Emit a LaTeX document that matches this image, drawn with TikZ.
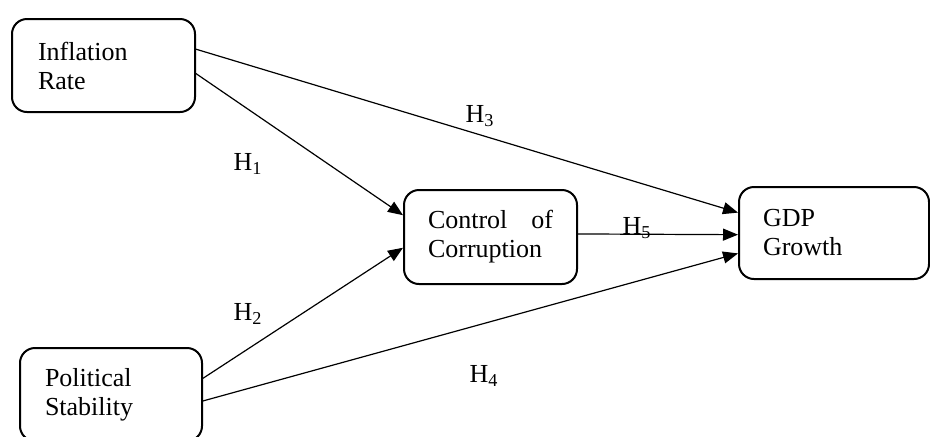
\documentclass[tikz,border=0pt]{standalone}
\usepackage{fontspec}
\setmainfont{Liberation Serif}
\usetikzlibrary{arrows.meta}

\begin{document}
\begin{tikzpicture}[x=0.5pt, y=-0.5pt,
    var/.style={draw, line width=1pt, rounded corners=7.5pt, align=left,
      minimum height=46.5pt, inner xsep=12pt, font=\fontsize{13}{14.5}\selectfont},
    link/.style={-{Triangle[length=7.5pt, width=6pt]}, line width=0.6pt},
    hyp/.style={inner sep=0pt, font=\fontsize{13}{14.5}\selectfont}]
    \clip (0,0) rectangle (930,436);

    % variables
    \node[var, text width=65.5pt, inner xsep=13pt] (infl) at (103.5,65.5) {Inflation\\Rate};
    \node[var, text width=66pt, inner xsep=12.5pt] (pol) at (111,394.5) {Political\\Stability};
    \node[var, text width=62.5pt, minimum height=47pt] (corr) at (490.5,237) {Control \hfill of\\Corruption};
    \node[var, text width=71pt, minimum height=46pt] (gdp) at (834,233) {GDP\\Growth};

    % paths
    \draw[link] (infl.-5.3) -- (corr.166.5);
    \draw[link] (pol.10.3) -- (corr.187.8);
    \draw[link] (infl.10.1) -- (gdp.168);
    \draw[link] (pol.-4.7) -- (gdp.192.6);
    \draw[link] (corr.2.6) -- (gdp.181.8);

    % hypotheses
    \node[hyp] (h1) at (248,164) {H\textsubscript{1}};
    \node[hyp] (h2) at (248,314) {H\textsubscript{2}};
    \node[hyp] (h3) at (480,116) {H\textsubscript{3}};
    \node[hyp] (h4) at (484,376) {H\textsubscript{4}};
    \node[hyp] (h5) at (637,228) {H\textsubscript{5}};
\end{tikzpicture}
\end{document}
